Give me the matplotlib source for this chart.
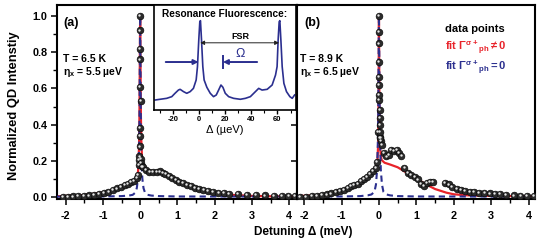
import matplotlib
matplotlib.use("Agg")
import matplotlib.pyplot as plt
from matplotlib.ticker import MultipleLocator
from matplotlib.transforms import offset_copy

plt.rcParams['font.family'] = ['Liberation Sans', 'DejaVu Sans']
plt.rcParams['font.weight'] = 'bold'
plt.rcParams['axes.unicode_minus'] = False
plt.rcParams['mathtext.fontset'] = 'custom'
plt.rcParams['mathtext.rm'] = 'Liberation Sans:bold'
plt.rcParams['mathtext.it'] = 'Liberation Sans:bold'
plt.rcParams['mathtext.bf'] = 'Liberation Sans:bold'
plt.rcParams['mathtext.sf'] = 'Liberation Sans:bold'

RED = '#e8232a'
BLUE = '#2b2f8f'

# ---------------- panel (a) data ----------------
a_pts_x = [-2.08, -1.94, -1.80, -1.66, -1.52, -1.38, -1.24, -1.10, -0.97, -0.85,
           -0.73, -0.62, -0.52, -0.42, -0.33, -0.24, -0.16, -0.09, -0.05,
           -0.04, -0.03, -0.02, -0.01, 0.00, 0.00, 0.01, 0.00, 0.00, 0.00, 0.00, 0.00,
           0.02, 0.03, 0.05,
           0.08, 0.15, 0.25, 0.35, 0.45, 0.53, 0.60, 0.68, 0.77, 0.86, 0.95, 1.05,
           1.15, 1.25, 1.36, 1.47, 1.58, 1.70, 1.83, 1.96, 2.10, 2.24, 2.38, 2.62,
           2.86, 3.10, 3.36, 3.58, 3.80, 3.98, 4.16]
a_pts_y = [0.003, 0.003, 0.004, 0.005, 0.007, 0.010, 0.014, 0.019, 0.025, 0.031,
           0.039, 0.048, 0.058, 0.066, 0.075, 0.082, 0.092, 0.105, 0.125,
           0.18, 0.205, 0.225, 0.28, 0.34, 0.38, 0.53, 0.61, 0.76, 0.82, 0.92, 1.0,
           0.21, 0.19, 0.17,
           0.165, 0.150, 0.138, 0.138, 0.140, 0.142, 0.135, 0.127, 0.117, 0.105, 0.094, 0.085,
           0.077, 0.068, 0.060, 0.053, 0.047, 0.040, 0.034, 0.029, 0.025, 0.022, 0.020, 0.016,
           0.014, 0.011, 0.010, 0.009, 0.007, 0.007, 0.006]

a_red_x = [-2.25, -2.0, -1.5, -1.0, -0.7, -0.5, -0.3, -0.2, -0.12, -0.07, -0.05, -0.03,
           -0.02, -0.01, 0.0, 0.01, 0.02, 0.03, 0.05, 0.08, 0.12, 0.2, 0.4, 0.6, 0.8,
           1.0, 1.2, 1.5, 1.8, 2.0, 2.5, 3.0, 3.5, 4.25]
a_red_y = [0.005, 0.007, 0.012, 0.025, 0.038, 0.052, 0.07, 0.08, 0.09, 0.11, 0.16, 0.28,
           0.43, 0.72, 1.0, 0.72, 0.45, 0.32, 0.21, 0.17, 0.155, 0.148, 0.14, 0.128, 0.108,
           0.088, 0.068, 0.043, 0.028, 0.021, 0.012, 0.007, 0.005, 0.004]

a_blue_x = [-2.25, -1.0, -0.5, -0.3, -0.2, -0.13, -0.09, -0.06, -0.04, -0.025, -0.015,
            -0.007, 0.0, 0.007, 0.015, 0.025, 0.04, 0.06, 0.09, 0.13, 0.2, 0.3, 0.5, 1.0, 4.25]
a_blue_y = [0.003, 0.004, 0.006, 0.009, 0.013, 0.025, 0.05, 0.10, 0.17, 0.30, 0.50,
            0.78, 1.0, 0.78, 0.50, 0.30, 0.17, 0.10, 0.05, 0.025, 0.013, 0.009, 0.006, 0.004, 0.003]

# ---------------- panel (b) data ----------------
b_pts_x = [-2.12, -1.96, -1.80, -1.66, -1.52, -1.40, -1.28, -1.16, -1.04, -0.93,
           -0.84, -0.75, -0.66, -0.57, -0.48, -0.40, -0.32, -0.24, -0.16, -0.09, -0.05,
           -0.02, 0.03, 0.06, 0.08, 0.04, 0.03, 0.03, 0.02, 0.02, 0.01, 0.01, 0.00,
           0.00, 0.00, 0.00, 0.00, 0.00,
           0.13, 0.20, 0.27, 0.33, 0.40, 0.47, 0.53, 0.60, 0.68, 0.78, 0.86, 0.95,
           1.04, 1.12, 1.20, 1.28, 1.36, 1.44, 1.76, 1.86, 1.96, 2.08, 2.18, 2.30,
           2.42, 2.54, 2.68, 2.82, 2.96, 3.10, 3.24, 3.40, 3.60, 3.78, 3.96, 4.14]
b_pts_y = [0.003, 0.003, 0.005, 0.008, 0.011, 0.015, 0.021, 0.028, 0.035, 0.042,
           0.050, 0.060, 0.068, 0.075, 0.090, 0.100, 0.113, 0.128, 0.145, 0.160, 0.195,
           0.36, 0.33, 0.31, 0.29, 0.325, 0.361, 0.398, 0.435, 0.481, 0.536, 0.563, 0.618,
           0.664, 0.747, 0.848, 0.912, 1.0,
           0.246, 0.225, 0.232, 0.260, 0.255, 0.262, 0.245, 0.226, 0.162, 0.135, 0.125, 0.112,
           0.098, 0.075, 0.062, 0.077, 0.082, 0.082, 0.080, 0.070, 0.058, 0.046, 0.040, 0.033,
           0.030, 0.028, 0.024, 0.022, 0.021, 0.020, 0.017, 0.013, 0.010, 0.009, 0.008, 0.007]

b_red_x = [-2.25, -1.5, -1.0, -0.7, -0.5, -0.3, -0.15, -0.07, -0.04, -0.02, -0.01, 0.0,
           0.01, 0.02, 0.04, 0.07, 0.15, 0.3, 0.5, 0.7, 0.9, 1.1, 1.3, 1.5, 1.8, 2.0,
           2.3, 2.5, 3.0, 4.25]
b_red_y = [0.005, 0.013, 0.035, 0.06, 0.085, 0.115, 0.145, 0.17, 0.2, 0.3, 0.55, 1.0,
           0.6, 0.35, 0.25, 0.205, 0.19, 0.18, 0.165, 0.14, 0.115, 0.09, 0.066, 0.045, 0.025, 0.016,
           0.011, 0.009, 0.007, 0.005]

b_blue_x = [-2.25, -1.0, -0.5, -0.3, -0.2, -0.12, -0.08, -0.05, -0.03, -0.02, -0.01, 0.0,
            0.01, 0.02, 0.03, 0.05, 0.08, 0.12, 0.2, 0.3, 0.5, 1.0, 4.25]
b_blue_y = [0.003, 0.004, 0.006, 0.01, 0.015, 0.03, 0.07, 0.15, 0.3, 0.45, 0.75, 1.0,
            0.75, 0.45, 0.3, 0.15, 0.07, 0.03, 0.015, 0.01, 0.006, 0.004, 0.003]

# ---------------- inset spectrum ----------------
ins_x = [-33.8, -30.0, -24.9, -21.0, -18.5, -15.9, -14.6, -12.0, -9.5, -6.9, -4.4,
         -2.3, -1.3, -0.3, 0.5, 1.0, 1.8, 2.8, 3.8, 5.9, 8.5, 11.0, 13.1, 14.9, 16.7,
         18.2, 20.0, 22.6, 26.4, 31.5, 35.4, 39.2, 43.1, 45.6, 48.2, 52.1, 55.9, 58.5,
         59.7, 60.5, 61.3, 61.8, 62.6, 63.6, 64.9, 66.9, 69.5, 71.3, 73.1]
ins_y = [0.095, 0.102, 0.111, 0.127, 0.159, 0.19, 0.197, 0.175, 0.159, 0.175, 0.206,
         0.286, 0.413, 0.667, 0.841, 0.851, 0.667, 0.413, 0.286, 0.216, 0.159, 0.127, 0.143,
         0.19, 0.238, 0.216, 0.159, 0.127, 0.111, 0.102, 0.111, 0.127, 0.175, 0.206, 0.19,
         0.197, 0.238, 0.333, 0.413, 0.667, 0.841, 0.851, 0.667, 0.413, 0.254, 0.175,
         0.127, 0.111, 0.143]

ins_ticks = [-20, 0, 20, 40, 60]
main_ticks_x = [-2, -1, 0, 1, 2, 3, 4]
main_ticks_y = [0.0, 0.2, 0.4, 0.6, 0.8, 1.0]

W, H = 545, 245
fig = plt.figure(figsize=(W / 100, H / 100), dpi=100)

def px_rect(x0, y0, x1, y1):
    return [x0 / W, (H - y1) / H, (x1 - x0) / W, (y1 - y0) / H]

axa = fig.add_axes(px_rect(56.7, 5, 297, 199))
axb = fig.add_axes(px_rect(297, 5, 535, 199))

def style_main(ax, xlim):
    ax.set_xlim(*xlim)
    ax.set_ylim(-0.01, 1.06)
    for s in ax.spines.values():
        s.set_linewidth(1.5)
    ax.set_xticks(main_ticks_x)
    ax.xaxis.set_minor_locator(MultipleLocator(0.5))
    ax.tick_params(axis='x', which='major', direction='out', length=4.5, width=1.1,
                   labelsize=7.8, pad=4)
    ax.tick_params(axis='x', which='minor', direction='out', length=3, width=1.0)

def draw_panel(ax, rx, ry, bx, by, px, py):
    ax.plot(rx, ry, '-', color=RED, lw=1.6, zorder=2)
    ax.plot(bx, by, '--', color=BLUE, lw=1.5, dashes=(3, 2), zorder=3)
    ax.plot(px, py, 'o', ms=4.8, mfc='#2c2c2c', mec='#0a0a0a', mew=0.5, zorder=4)
    hl = offset_copy(ax.transData, fig=fig, x=-0.6, y=0.6, units='points')
    ax.plot(px, py, 'o', ms=1.7, mfc='#e8e8e8', mec='none', transform=hl, zorder=5)

style_main(axa, (-2.24, 4.21))
style_main(axb, (-2.19, 4.17))

axa.set_yticks(main_ticks_y)
axa.yaxis.set_minor_locator(MultipleLocator(0.1))
axa.tick_params(axis='y', which='major', direction='out', length=4.5, width=1.1,
                labelsize=7.8, pad=2)
axa.tick_params(axis='y', which='minor', direction='out', length=3, width=1.0)
axa.set_yticklabels([f"{v:.1f}" for v in main_ticks_y])
sec = axa.secondary_yaxis('right')
sec.set_yticks(main_ticks_y)
sec.tick_params(direction='in', length=4, width=1.1, labelright=False)
sec.spines['right'].set_visible(False)

axb.set_yticks([])

draw_panel(axa, a_red_x, a_red_y, a_blue_x, a_blue_y, a_pts_x, a_pts_y)
draw_panel(axb, b_red_x, b_red_y, b_blue_x, b_blue_y, b_pts_x, b_pts_y)

# panel texts
def fx_a(px):
    return (px - 56.7) / (297 - 56.7)

def fx_b(px):
    return (px - 297) / (535 - 297)

def fy(py):
    return (199 - py) / 194

axa.text(fx_a(63), fy(23), '(a)', transform=axa.transAxes, fontsize=9, va='center', ha='left')
axa.text(fx_a(63), fy(59), 'T = 6.5 K', transform=axa.transAxes, fontsize=7.5, va='center')
axa.text(fx_a(63), fy(72), r'$\eta_x$ = 5.5 µeV', transform=axa.transAxes, fontsize=7.5, va='center')

axb.text(fx_b(304), fy(23), '(b)', transform=axb.transAxes, fontsize=9, va='center', ha='left')
axb.text(fx_b(300.5), fy(59), 'T = 8.9 K', transform=axb.transAxes, fontsize=7.5, va='center')
axb.text(fx_b(300.5), fy(72), r'$\eta_x$ = 6.5 µeV', transform=axb.transAxes, fontsize=7.5, va='center')

axb.text(fx_b(445), fy(29), 'data points', transform=axb.transAxes, fontsize=8, va='center', color='black')
axb.text(fx_b(445), fy(47), r'fit $\Gamma^{\sigma+}{}_{ph}\neq 0$', transform=axb.transAxes,
         fontsize=8, va='center', color=RED)
axb.text(fx_b(445), fy(67), r'fit $\Gamma^{\sigma+}{}_{ph} = 0$', transform=axb.transAxes,
         fontsize=8, va='center', color=BLUE)

fig.text(14 / W, (H - 106) / H, 'Normalized QD Intenstiy', rotation=90, ha='center',
         va='center', fontsize=9.3)
fig.text(303 / W, (H - 232) / H, 'Detuning Δ (meV)', ha='center', va='center', fontsize=8.5)

# inset
axi = fig.add_axes(px_rect(154, 5, 295.5, 110))
axi.set_facecolor('white')
axi.set_zorder(10)
axi.plot(ins_x, ins_y, '-', color=BLUE, lw=1.2)
axi.set_xlim(-34.6, 73.8)
axi.set_ylim(0, 1)
axi.set_yticks([])
axi.set_xticks(ins_ticks)
axi.xaxis.set_minor_locator(MultipleLocator(10))
axi.tick_params(axis='x', which='major', direction='out', length=3, width=1.0, labelsize=5.5, pad=1.5)
axi.tick_params(axis='x', which='minor', direction='out', length=2, width=0.8)
for s in axi.spines.values():
    s.set_linewidth(1.2)
axi.set_xlabel('Δ (µeV)', fontsize=8, labelpad=1)
axi.text(0.5, 0.91, 'Resonance Fluorescence:', transform=axi.transAxes, ha='center',
         va='center', fontsize=7.3)
axi.annotate('', xy=(0.8, 0.64), xytext=(61.2, 0.64),
             arrowprops=dict(arrowstyle='<|-|>', color='#222222', lw=0.7,
                             mutation_scale=6, shrinkA=0, shrinkB=0))
axi.text(31.5, 0.70, 'FSR', ha='center', va='center', fontsize=6.5)
axi.annotate('', xy=(-0.5, 0.457), xytext=(-25.6, 0.457),
             arrowprops=dict(arrowstyle='-|>', color=BLUE, lw=1.4,
                             mutation_scale=7, shrinkA=0, shrinkB=0))
axi.annotate('', xy=(18.2, 0.457), xytext=(44.4, 0.457),
             arrowprops=dict(arrowstyle='-|>', color=BLUE, lw=1.4,
                             mutation_scale=7, shrinkA=0, shrinkB=0))
axi.plot([18.2, 18.2], [0.40, 0.51], '-', color=BLUE, lw=1.4)
axi.text(31.5, 0.53, 'Ω', ha='center', va='center', fontsize=9, color=BLUE, fontweight='normal')

fig.savefig('out.png', dpi=100)
